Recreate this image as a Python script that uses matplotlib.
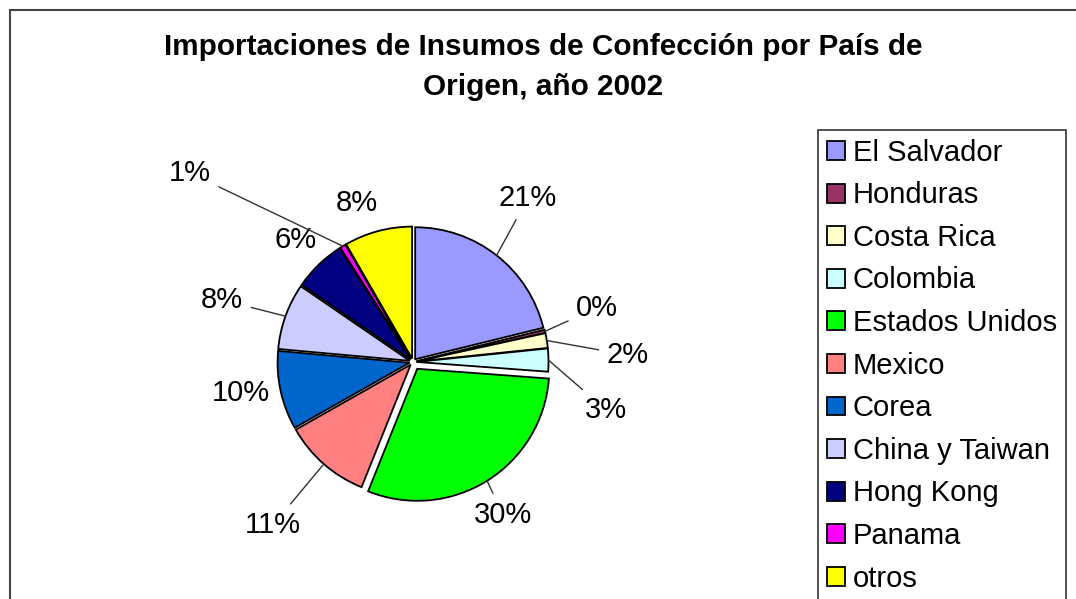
import numpy as np
import matplotlib
matplotlib.use("Agg")
import matplotlib.pyplot as plt
from matplotlib.patches import Rectangle

paises = ["El Salvador", "Honduras", "Costa Rica", "Colombia", "Estados Unidos",
          "Mexico", "Corea", "China y Taiwan", "Hong Kong", "Panama", "otros"]
valores = [21.1, 0.4, 1.8, 2.8, 29.8, 10.7, 9.6, 8.1, 6.4, 0.7, 8.3]
colores = ["#9999FF", "#993366", "#FFFFCC", "#CCFFFF", "#00FF00", "#FF8080",
           "#0066CC", "#CCCCFF", "#000080", "#FF00FF", "#FFFF00"]
titulo = "Importaciones de Insumos de Confección por País de\nOrigen, año 2002"

# label text positions (pixels, from top-left) and whether a leader line is drawn
pos_etiq = [(528, 198), (597, 308), (628, 355), (606, 410), (503, 515), (273, 525),
            (241, 393), (222, 300), (296, 240), (190, 173), (357, 203)]
con_linea = [True, True, True, True, True, True, False, True, False, True, False]

plt.rcParams['font.family'] = ['Liberation Sans', 'DejaVu Sans']

W, H = 1076, 599
fig = plt.figure(figsize=(W / 100, H / 100), dpi=100)
ax = fig.add_axes([0, 0, 1, 1])

cx, cy, r = 413, H - 362, 132
# explode is in data units (pixels here)
explode = [8 if p == "Estados Unidos" else 3.5 for p in paises]
wedges, _ = ax.pie(valores, colors=colores, startangle=90, counterclock=False,
                   center=(cx, cy), radius=r, explode=explode, frame=True,
                   wedgeprops=dict(edgecolor='black', linewidth=1.3))
ax.set_xlim(0, W)
ax.set_ylim(0, H)
ax.set_aspect('equal')
ax.axis('off')

for w, v, (tx, ty), linea in zip(wedges, valores, pos_etiq, con_linea):
    ang = np.deg2rad((w.theta1 + w.theta2) / 2)
    wx, wy = w.center
    px = wx + w.r * np.cos(ang)
    py = wy + w.r * np.sin(ang)
    txt = f"{round(v)}%"
    if linea:
        ax.annotate(txt, xy=(px, py), xytext=(tx, H - ty), ha='center', va='center',
                    fontsize=21,
                    arrowprops=dict(arrowstyle='-', color='#333333', lw=1,
                                    shrinkA=4, shrinkB=0))
    else:
        ax.text(tx, H - ty, txt, ha='center', va='center', fontsize=21)

ax.text(543, H - 67, titulo, ha='center', va='center',
        fontsize=21.4, fontweight='bold', linespacing=1.55)

# outer chart border
ax.add_patch(Rectangle((10, -5), W, H - 5, fill=False, edgecolor='#444444',
                       linewidth=1.5, clip_on=False))

leg = ax.legend(wedges, paises, loc='upper left', bbox_to_anchor=(818 / W, 1 - 130 / H),
                bbox_transform=fig.transFigure, fontsize=21, frameon=True,
                fancybox=False, edgecolor='black', handlelength=0.62, handleheight=0.62,
                handletextpad=0.28, labelspacing=0.5, borderpad=0.3, borderaxespad=0)
leg.get_frame().set_linewidth(1.2)

fig.savefig("out.png", dpi=100)
